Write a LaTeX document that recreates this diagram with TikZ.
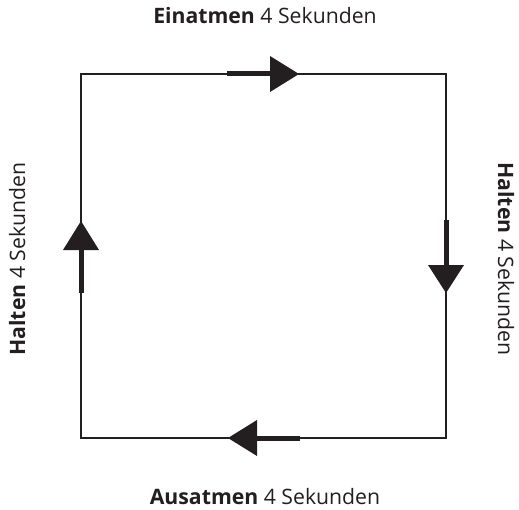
\documentclass[tikz,border=0pt]{standalone}
\usepackage{fontspec}
\setmainfont{Open Sans}
\definecolor{ink}{HTML}{231F20}
\definecolor{txt}{HTML}{231F20}
\tikzset{
  frame/.style={draw=ink, line width=2bp},
  shaft/.style={draw=ink, line width=5bp},
  head/.style={fill=ink, draw=none},
  lbl/.style={font=\fontsize{21.3}{24}\selectfont, text=txt, inner sep=0pt, anchor=base}
}
\begin{document}
\begin{tikzpicture}[x=1bp,y=-1bp]
\useasboundingbox (0,0) rectangle (519,510);
% corners
\coordinate (tl) at (81,74);
\coordinate (tr) at (446,74);
\coordinate (br) at (446,438);
\coordinate (bl) at (81,438);
\draw[frame] (tl) -- (tr) -- (br) -- (bl) -- cycle;
% top arrow (right)
\draw[shaft] (227,74) -- (272,74);
\fill[head] (299,74) -- (270,56) -- (270,92) -- cycle;
% right arrow (down)
\draw[shaft] (446,220) -- (446,267);
\fill[head] (446,293) -- (428,265) -- (464,265) -- cycle;
% bottom arrow (left)
\draw[shaft] (300,438) -- (255,438);
\fill[head] (228,438) -- (257,420) -- (257,456) -- cycle;
% left arrow (up)
\draw[shaft] (81,293) -- (81,248);
\fill[head] (81,221) -- (63,250) -- (99,250) -- cycle;
% labels
\node[lbl] (top) at (265,24) {\textbf{Einatmen} 4 Sekunden};
\node[lbl] (bot) at (265,504) {\textbf{Ausatmen} 4 Sekunden};
\node[lbl, rotate=90] (lft) at (25,259) {\textbf{Halten} 4 Sekunden};
\node[lbl, rotate=-90] (rgt) at (498,259) {\textbf{Halten} 4 Sekunden};
\end{tikzpicture}
\end{document}
